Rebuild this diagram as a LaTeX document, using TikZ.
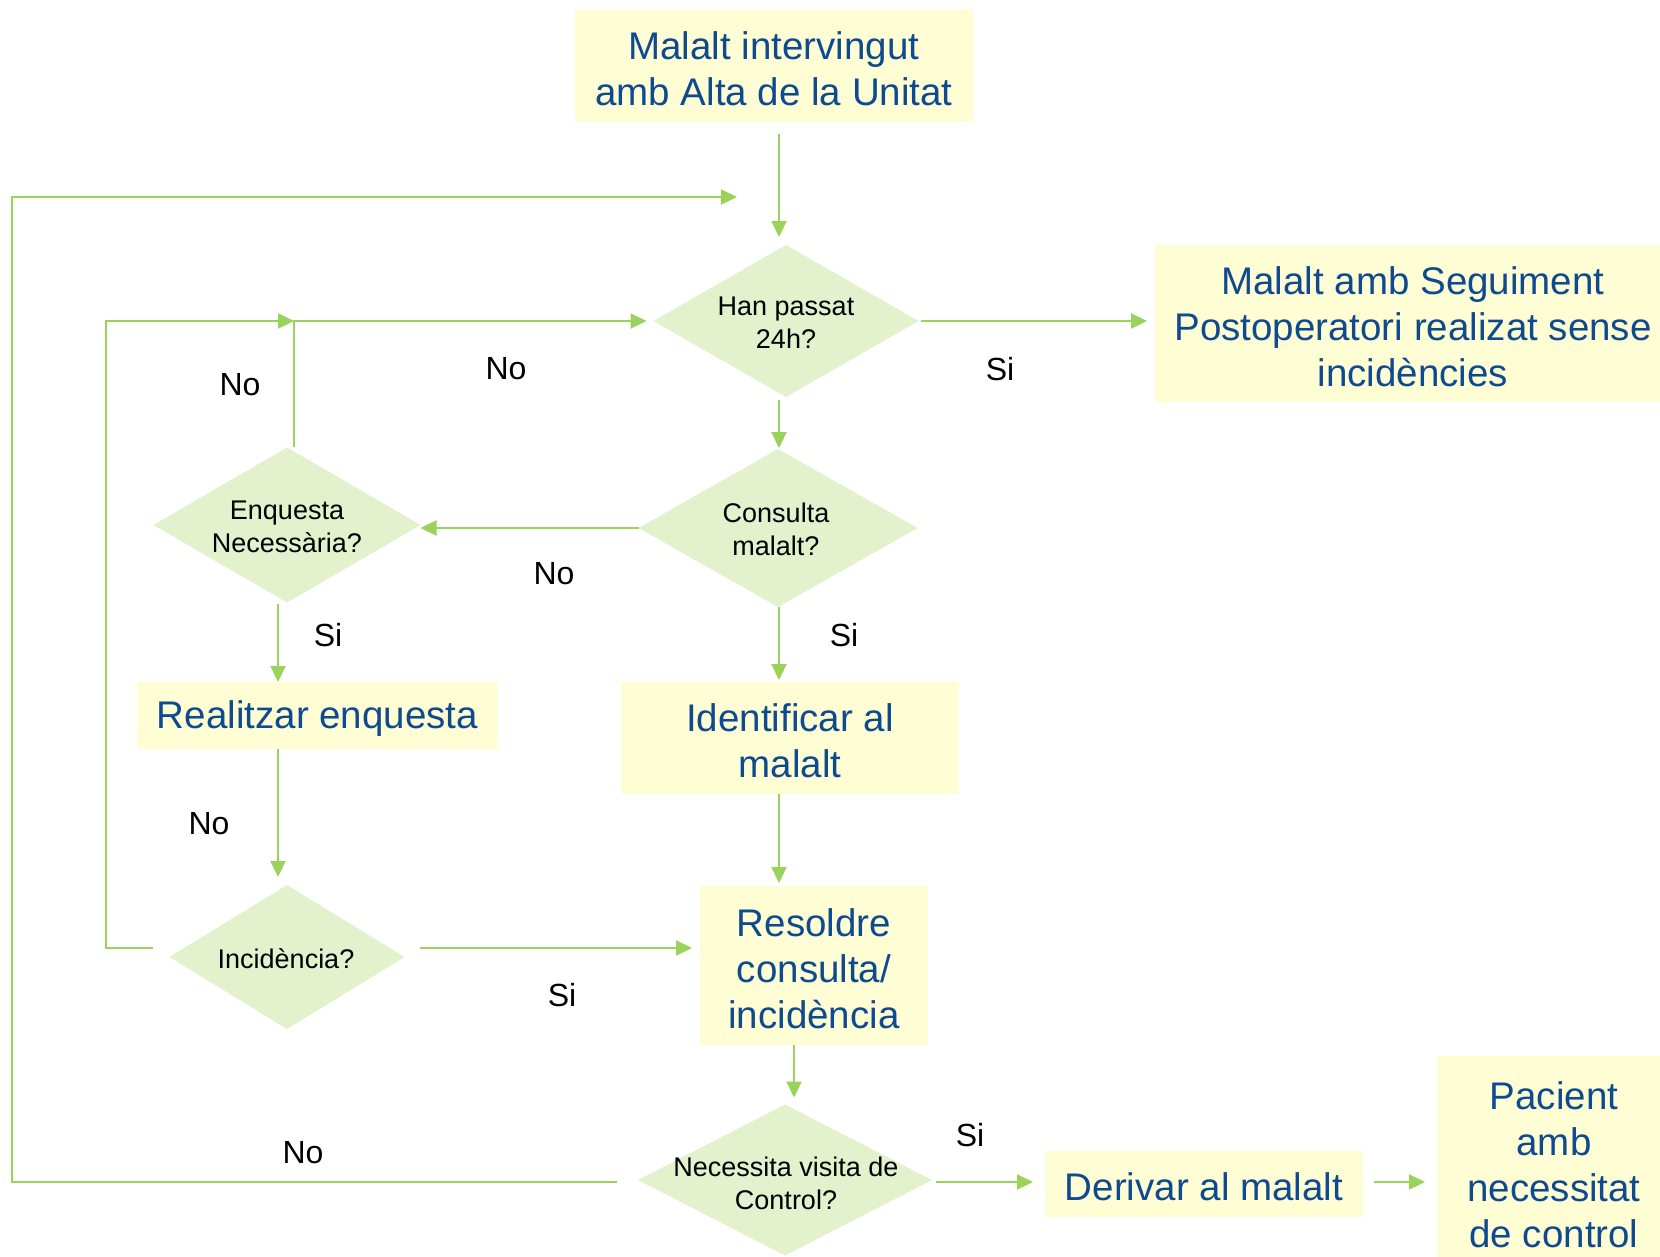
\documentclass[tikz,border=0pt]{standalone}
\usepackage{fontspec}
\setmainfont{Liberation Sans}
\usetikzlibrary{arrows.meta,shapes.geometric}
\definecolor{boxfill}{HTML}{FFFDD3}
\definecolor{dfill}{HTML}{E3F1CD}
\definecolor{lgreen}{HTML}{9BD35A}
\definecolor{tblue}{HTML}{0E4A8F}
\newcommand{\tstrut}{\rule{0pt}{33.5pt}}
\begin{document}
\begin{tikzpicture}[x=1pt,y=-1pt,
 box/.style={fill=boxfill, draw=none, inner sep=0, outer sep=0, text=tblue, font=\fontsize{38.5}{46}\selectfont, align=center},
 dia/.style={diamond, fill=dfill, draw=none, inner sep=0, outer sep=0},
 dtext/.style={font=\fontsize{27}{33}\selectfont, align=center, inner sep=0},
 lab/.style={font=\fontsize{32}{38}\selectfont, inner sep=0},
 arr/.style={draw=lgreen, line width=2.2pt, line join=miter, -{Triangle[length=16pt,width=15pt]}},
]
\fill[white] (0,0) rectangle (1660,1256);
\useasboundingbox (0,0) rectangle (1660,1256);

% boxes
\node[box, minimum width=398pt, minimum height=113pt] (top) at (774,65.5) {\tstrut Malalt intervingut\\amb Alta de la Unitat};
\node[box, minimum width=516pt, minimum height=157pt] (rbox) at (1413,323.5) {\tstrut Malalt amb Seguiment\\Postoperatori realizat sense\\incidències};
\node[box, minimum width=361pt, minimum height=67pt] (real) at (317.5,715.5) {\tstrut Realitzar enquesta};
\node[box, minimum width=338pt, minimum height=112pt] (ident) at (790,738) {\tstrut Identificar al\\malalt};
\node[box, minimum width=228pt, minimum height=159pt] (res) at (814,965.5) {\tstrut Resoldre\\consulta/\\incidència};
\node[box, minimum width=318pt, minimum height=66pt] (der) at (1204,1184) {\tstrut Derivar al malalt};
\node[box, minimum width=234pt, minimum height=212pt] (pac) at (1554,1162) {\tstrut Pacient\\amb\\necessitat\\de control};

% diamonds
\node[dia, minimum width=265pt, minimum height=152pt] (han) at (786,321) {};
\node[dtext] (hant) at (786,323) {Han passat\\24h?};
\node[dia, minimum width=279pt, minimum height=158pt] (consulta) at (778,528) {};
\node[dtext] (consultat) at (776,529) {Consulta\\malalt?};
\node[dia, minimum width=267pt, minimum height=155pt] (enq) at (287,525) {};
\node[dtext] (enqt) at (287,527) {Enquesta\\Necessària?};
\node[dia, minimum width=235pt, minimum height=144pt] (inc) at (287,957) {};
\node[dtext] (inct) at (286,959) {Incidència?};
\node[dia, minimum width=294pt, minimum height=151pt] (nec) at (785,1180) {};
\node[dtext] (nect) at (786,1183) {Necessita visita de\\Control?};

% labels
\node[lab] (l1) at (240,385) {No};
\node[lab] (l2) at (506,369) {No};
\node[lab] (l3) at (1000,369) {Si};
\node[lab] (l4) at (554,574) {No};
\node[lab] (l5) at (328,635) {Si};
\node[lab] (l6) at (844,635) {Si};
\node[lab] (l7) at (209,824) {No};
\node[lab] (l8) at (562,995) {Si};
\node[lab] (l9) at (303,1153) {No};
\node[lab] (l10) at (970,1135) {Si};

% coordinates
\coordinate (lc1) at (12,1182);
\coordinate (lc2) at (12,197);
\coordinate (loopend) at (737,197);
\coordinate (c1) at ([xshift=-9pt,yshift=-1pt]enq.south);
\coordinate (c2) at ([xshift=7pt,yshift=1pt]enq.north);
\coordinate (j) at (c2 |- han.west);
\coordinate (c3) at (106,948);
\coordinate (c4) at (c3 |- j);
\coordinate (c5) at ([xshift=15pt,yshift=9pt]inc.east);
\coordinate (c6) at ([xshift=1pt]consulta.south);
\coordinate (c7) at ([xshift=-20pt]res.south);
\coordinate (c8) at ([xshift=4pt,yshift=-2pt]nec.east);
\coordinate (c9) at ([xshift=11pt,yshift=2pt]der.east);

% connectors
\draw[arr] ([xshift=5pt,yshift=-12pt]top.south) -- ([xshift=-7pt,yshift=8pt]han.north);
\draw[arr] ([xshift=-21pt,yshift=-2pt]nec.west) -- (lc1) -- (lc2) -- (loopend);
\draw[arr, shorten >=8pt] ([xshift=2pt]han.east) -- (han.east -| rbox.west);
\draw[arr] ([xshift=-7pt,yshift=-3pt]han.south) -- ([xshift=1pt,yshift=1pt]consulta.north);
\draw[arr] (consulta.west) -- (consulta.west -| enq.east);
\draw[arr] (c1) -- (c1 |- real.north);
\draw[arr, shorten >=7pt] (c2) -- (j) -- (han.west);
\draw[arr] ([xshift=-17pt,yshift=9pt]inc.west) -- (c3) -- (c4) -- (j);
\draw[arr, shorten >=8pt] (c1 |- real.south) -- (c1 |- inc.north);
\draw[arr, shorten >=8pt] (c5) -- (c5 -| res.west);
\draw[arr, shorten >=2pt] (c6) -- (c6 |- ident.north);
\draw[arr, shorten >=3pt] (c6 |- ident.south) -- (c6 |- res.north);
\draw[arr, shorten >=7pt] (c7) -- (c7 |- nec.north);
\draw[arr, shorten >=12pt] (c8) -- (c8 -| der.west);
\draw[arr, shorten >=12pt] (c9) -- (c9 -| pac.west);
\end{tikzpicture}
\end{document}
